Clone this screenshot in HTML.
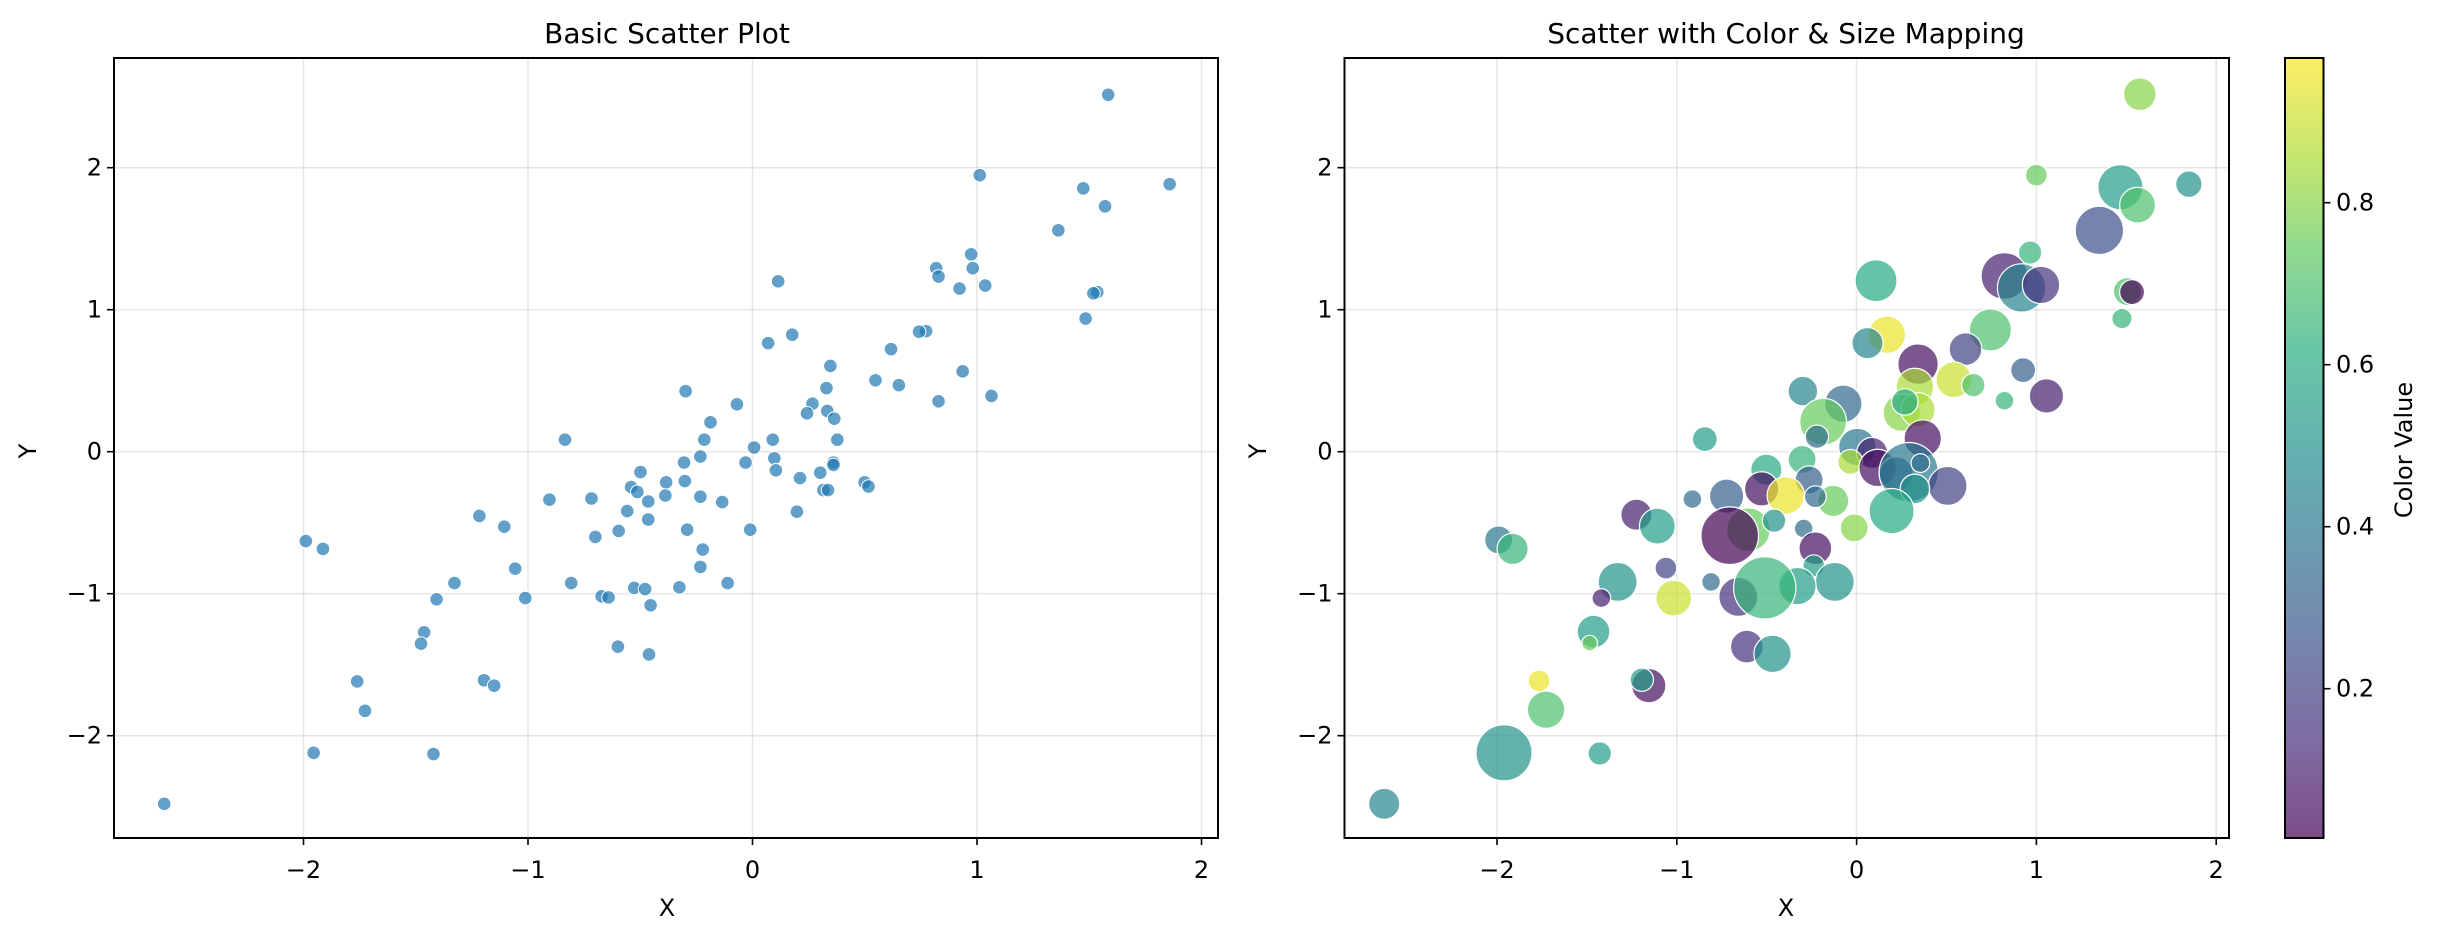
<!DOCTYPE html>
<html><head><meta charset="utf-8"><style>
body{margin:0;background:#fff}
svg text{font-family:"DejaVu Sans","Liberation Sans",sans-serif;fill:#000}
</style></head><body>
<svg id="s" width="2440" height="936" xmlns="http://www.w3.org/2000/svg">
<defs><linearGradient id="vir" x1="0" y1="1" x2="0" y2="0">
<stop offset="0" stop-color="#440154"/><stop offset="0.125" stop-color="#472d7b"/><stop offset="0.25" stop-color="#3b528b"/><stop offset="0.375" stop-color="#2c728e"/><stop offset="0.5" stop-color="#21918c"/><stop offset="0.625" stop-color="#28ae80"/><stop offset="0.75" stop-color="#5ec962"/><stop offset="0.875" stop-color="#addc30"/><stop offset="1" stop-color="#fde725"/></linearGradient></defs>
<g id="grid"></g>
<g id="pts"></g>
<rect x="114" y="58" width="1104" height="780" fill="none" stroke="#000" stroke-width="2"/>
<rect x="1344.5" y="58" width="884.5" height="780" fill="none" stroke="#000" stroke-width="2"/>
<rect x="2285" y="58" width="38.5" height="780" fill="url(#vir)" opacity="0.7"/>
<rect x="2285" y="58" width="38.5" height="780" fill="none" stroke="#000" stroke-width="2"/>
<g id="ticks"></g>
<text x="667" y="43" font-size="28" text-anchor="middle">Basic Scatter Plot</text>
<text x="1786" y="43" font-size="28" text-anchor="middle">Scatter with Color &amp; Size Mapping</text>
<text x="667" y="916" font-size="24" text-anchor="middle">X</text>
<text x="1786" y="916" font-size="24" text-anchor="middle">X</text>
<text transform="translate(36,451) rotate(-90)" font-size="24" text-anchor="middle">Y</text>
<text transform="translate(1266,451) rotate(-90)" font-size="24" text-anchor="middle">Y</text>
<text transform="translate(2412,450) rotate(-90)" font-size="24" text-anchor="middle">Color Value</text>
</svg>
<script>
var NS="http://www.w3.org/2000/svg";
function el(p,t,a,txt){var e=document.createElementNS(NS,t);for(var k in a)e.setAttribute(k,a[k]);if(txt!=null)e.textContent=txt;document.getElementById(p).appendChild(e);return e;}
var yv=function(d){return 451.7-d*142;};
// grid + ticks
[[752.5,224.5,114,1218],[1856.6,179.8,1344.5,2229]].forEach(function(ax){
 for(var i=-2;i<=2;i++){var x=ax[0]+i*ax[1];
  el("grid","line",{x1:x,x2:x,y1:58,y2:838,stroke:"#b0b0b0","stroke-opacity":0.3,"stroke-width":1.6});
  el("ticks","line",{x1:x,x2:x,y1:838,y2:845,stroke:"#000","stroke-width":1.6});
  el("ticks","text",{x:x,y:878,"font-size":24,"text-anchor":"middle"},(i<0?"\u2212":"")+Math.abs(i));}
 for(var j=-2;j<=2;j++){var y=yv(j);
  el("grid","line",{x1:ax[2],x2:ax[3],y1:y,y2:y,stroke:"#b0b0b0","stroke-opacity":0.3,"stroke-width":1.6});
  el("ticks","line",{x1:ax[2]-7,x2:ax[2],y1:y,y2:y,stroke:"#000","stroke-width":1.6});
  el("ticks","text",{x:ax[2]-12,y:y+8,"font-size":24,"text-anchor":"end"},(j<0?"\u2212":"")+Math.abs(j));}
});
[0.2,0.4,0.6,0.8].forEach(function(v){var y=688.7-(v-0.2)*810;
 el("ticks","line",{x1:2323.5,x2:2330.5,y1:y,y2:y,stroke:"#000","stroke-width":1.6});
 el("ticks","text",{x:2336,y:y+8,"font-size":24},v.toFixed(1));});
// left points
var L=[[1424,158],[1259,292],[1392,314],[1503,307],[1420,344],[1360,384],[1248,424],[1203,447],[1250,447],[1206,461],[1233,481],[1266,476],[1000,469],[1410,487],[1405,489],[1395,531],[1190,552],[1181,553],[1018,558],[987,572],[1145,582],[1067,610],[1237,619],[1125,634],[1155,642],[1062,647],[881,652],[1206,669],[1274,660],[947,674],[1044,673],[1037,689],[1063,685],[1072,698],[913,704],[726,733],[905,733],[993,733],[1076,733],[969,746],[900,761],[995,764],[879,771],[958,771],[1071,771],[1071,775],[823,787],[1054,788],[997,784],[1028,797],[856,804],[880,802],[1111,804],[1116,811],[811,812],[819,820],[1058,817],[1064,817],[855,826],[900,828],[706,833],[760,831],[833,836],[928,837],[806,852],[1024,853],[616,860],[648,878],[833,866],[765,895],[883,883],[964,883],[795,885],[393,902],[415,915],[903,916],[662,948],[900,945],[584,972],[734,972],[935,972],[873,979],[815,980],[829,982],[561,999],[675,997],[773,994],[782,996],[836,1009],[545,1054],[541,1073],[794,1078],[834,1091],[459,1136],[622,1134],[635,1143],[469,1185],[403,1255],[557,1257],[211,1340]];
L.forEach(function(p){el("pts","circle",{cx:p[0]/1.285,cy:p[1]/1.667,r:6.8,fill:"#1f77b4","fill-opacity":0.7,stroke:"#fff","stroke-width":1});});
// viridis
var V=[[68,1,84],[71,45,123],[59,82,139],[44,114,142],[33,145,140],[40,174,128],[94,201,98],[173,220,48],[253,231,37]];
function vir(t){t=(t-0.0157)/(0.979-0.0157);t=Math.max(0,Math.min(1,t))*8;var i=Math.min(7,Math.floor(t)),f=t-i;var c=V[i].map(function(a,k){return Math.round(a+(V[i+1][k]-a)*f);});return "rgb("+c.join(",")+")";}
var R=[[1182,157,21,.8],[1049,292,14,.75],[1157,312,29,.55],[1245,307,17,.5],[1179,342,23,.7],[1130,384,31,.25],[1041,421,15,.65],[1008,460,30,.1],[1030,480,31,.45],[1055,475,24,.15],[843,468,27,.6],[1166,486,18,.7],[1172,487,16,.02],[1159,531,13,.65],[990,550,27,.7],[857,558,24,.95],[832,572,20,.45],[958,582,21,.2],[897,607,26,.05],[1032,617,16,.3],[943,633,23,.9],[968,642,15,.7],[893,645,24,.85],[749,652,19,.45],[1008,668,12,.65],[1062,660,22,.1],[801,673,24,.35],[876,688,24,.8],[897,683,22,.85],[880,670,17,.6],[775,703,30,.75],[623,732,16,.55],[767,728,15,.35],[903,731,24,.05],[819,745,24,.4],[838,755,20,.1],[810,770,16,.85],[748,766,18,.65],[845,780,24,.05],[869,790,22,.3],[885,787,38,.4],[900,772,12,.35],[702,783,20,.6],[757,800,18,.3],[696,815,22,.05],[727,826,24,.95],[788,835,20,.75],[935,810,25,.2],[893,815,19,.5],[651,827,22,.3],[607,832,12,.35],[765,828,14,.35],[535,858,20,.1],[562,877,23,.55],[863,852,29,.6],[679,883,28,.75],[655,893,37,.02],[712,868,15,.5],[815,880,18,.8],[750,881,12,.35],[358,900,18,.4],[376,915,20,.65],[765,914,21,.05],[763,943,14,.55],[573,947,14,.2],[631,970,12,.35],[511,970,25,.5],[790,970,25,.5],[742,977,24,.55],[666,995,25,.15],[700,980,40,.65],[583,997,23,.9],[490,997,12,.1],[480,1053,21,.55],[475,1072,10,.75],[677,1078,21,.15],[710,1090,24,.5],[410,1135,14,.95],[551,1143,22,.05],[542,1133,15,.55],[419,1183,24,.7],[365,1255,36,.5],[488,1256,15,.55],[211,1340,20,.45]];
R.forEach(function(p){el("pts","circle",{cx:1220+p[0]/1.285,cy:p[1]/1.667,r:p[2]/1.285,fill:vir(p[3]),"fill-opacity":0.7,stroke:"#fff","stroke-width":1.2});});
</script>
</body></html>
